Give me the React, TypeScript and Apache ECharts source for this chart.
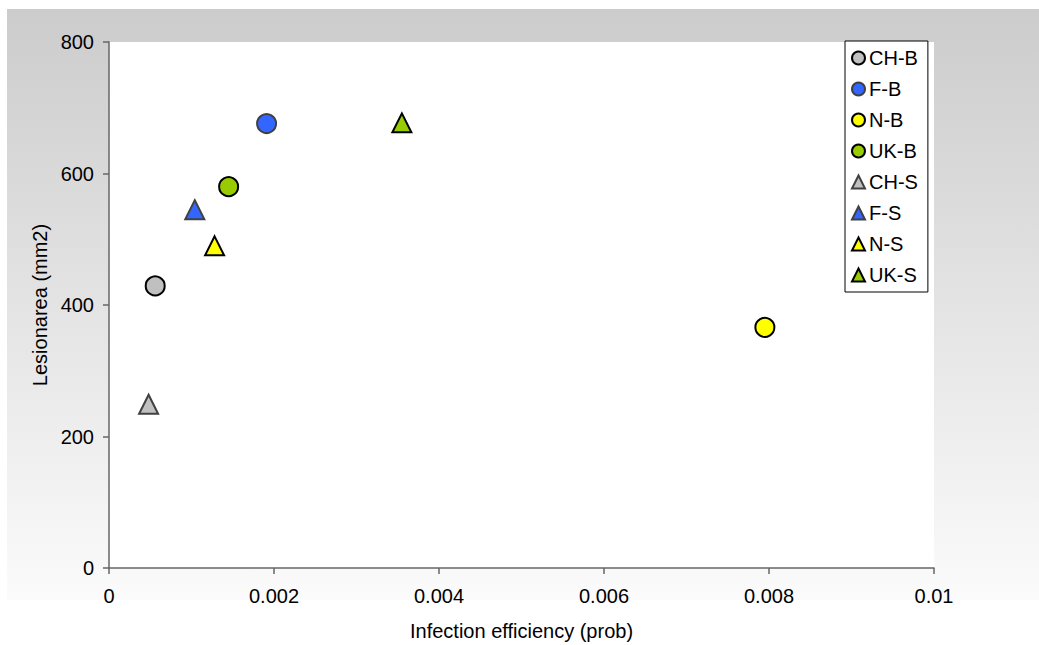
import React, { useEffect, useRef } from "react";
import * as echarts from "echarts";

const seriesNames = ["CH-B", "F-B", "N-B", "UK-B", "CH-S", "F-S", "N-S", "UK-S"];
const xValues = [0.00056, 0.00191, 0.00795, 0.00145, 0.00048, 0.00104, 0.00128, 0.00355];
const yValues = [429, 676, 366, 580, 249, 545, 490, 677];
const symbols = ["circle", "circle", "circle", "circle", "triangle", "triangle", "triangle", "triangle"];
const fillColors = ["#c0c0c0", "#3366ff", "#ffff00", "#99cc00", "#c0c0c0", "#3366ff", "#ffff00", "#99cc00"];
const borderColors = ["#000000", "#404040", "#000000", "#000000", "#404040", "#404040", "#000000", "#000000"];
const xTicks = { min: 0, max: 0.01, interval: 0.002 };
const yTicks = { min: 0, max: 800, interval: 200 };

const FONT = "'Liberation Sans', Arial, Helvetica, sans-serif";

export default function App() {
  const ref = useRef<HTMLDivElement>(null);
  useEffect(() => {
    if (!ref.current) return;
    const chart = echarts.init(ref.current, undefined, { renderer: "svg" });
    const series = seriesNames.map((name, i) => ({
      name,
      type: "scatter",
      symbol: symbols[i],
      symbolSize: symbols[i] === "circle" ? 19 : [19, 19],
      itemStyle: { color: fillColors[i], borderColor: borderColors[i], borderWidth: 2, opacity: 1 },
      data: [[xValues[i], yValues[i]]],
      z: 5,
    }));
    chart.setOption({
      animation: false,
      textStyle: { fontFamily: FONT },
      graphic: [
        {
          type: "rect",
          z: -10,
          silent: true,
          shape: { x: 7, y: 9, width: 1032, height: 591 },
          style: {
            fill: new echarts.graphic.LinearGradient(0, 0, 0, 1, [
              { offset: 0, color: "#cccccc" },
              { offset: 1, color: "#fbfbfb" },
            ]),
          },
        },
      ],
      grid: {
        left: 109,
        top: 42,
        right: 105,
        bottom: 77,
        outerBoundsMode: "none",
        containLabel: false,
        show: true,
        backgroundColor: "#ffffff",
        borderWidth: 0,
      },
      legend: {
        orient: "vertical",
        left: 845,
        top: 41,
        width: 70,
        padding: [7, 10, 7, 6],
        itemGap: 11,
        itemWidth: 13,
        itemHeight: 13,
        borderColor: "#000",
        borderWidth: 1,
        backgroundColor: "#ffffff",
        textStyle: { fontSize: 20, color: "#000", fontFamily: FONT, lineHeight: 20, padding: [0, 0, 0, -1] },
        data: seriesNames.map((n, i) => ({ name: n, icon: symbols[i] })),
      },
      xAxis: {
        type: "value",
        min: xTicks.min,
        max: xTicks.max,
        interval: xTicks.interval,
        name: "Infection efficiency (prob)",
        nameLocation: "middle",
        nameGap: 53,
        nameTextStyle: { fontSize: 20, color: "#000", fontFamily: FONT },
        axisLine: { show: true, onZero: false, lineStyle: { color: "#666", width: 1.5 } },
        axisTick: { show: true, length: 6, lineStyle: { color: "#666", width: 1.5 } },
        axisLabel: { fontSize: 20, color: "#000", margin: 18, fontFamily: FONT },
        splitLine: { show: false },
      },
      yAxis: {
        type: "value",
        min: yTicks.min,
        max: yTicks.max,
        interval: yTicks.interval,
        name: "Lesionarea (mm2)",
        nameLocation: "middle",
        nameGap: 59,
        nameTextStyle: { fontSize: 20, color: "#000", fontFamily: FONT },
        axisLine: { show: true, onZero: false, lineStyle: { color: "#666", width: 1.5 } },
        axisTick: { show: true, length: 6, lineStyle: { color: "#666", width: 1.5 } },
        axisLabel: { fontSize: 20, color: "#000", margin: 15, fontFamily: FONT },
        splitLine: { show: false },
      },
      series,
    });
    return () => chart.dispose();
  }, []);
  return (
    <div
      ref={ref}
      style={{ position: "fixed", left: 0, top: 0, width: 1039, height: 645, background: "#ffffff" }}
    />
  );
}
